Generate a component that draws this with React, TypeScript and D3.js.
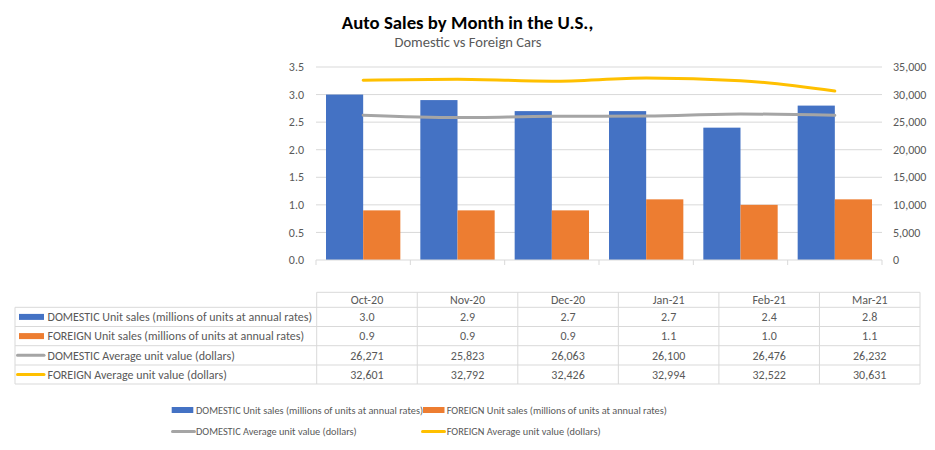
import React from "react";
import * as d3 from "d3";

const categories = ["Oct-20", "Nov-20", "Dec-20", "Jan-21", "Feb-21", "Mar-21"];
const domesticUnits = [3.0, 2.9, 2.7, 2.7, 2.4, 2.8];
const foreignUnits = [0.9, 0.9, 0.9, 1.1, 1.0, 1.1];
const domesticValue = [26271, 25823, 26063, 26100, 26476, 26232];
const foreignValue = [32601, 32792, 32426, 32994, 32522, 30631];
const leftTicks = [0, 0.5, 1, 1.5, 2, 2.5, 3, 3.5];
const rightTicks = [0, 5000, 10000, 15000, 20000, 25000, 30000, 35000];
const seriesNames = [
  "DOMESTIC Unit sales (millions of units at annual rates)",
  "FOREIGN Unit sales (millions of units at annual rates)",
  "DOMESTIC Average unit value (dollars)",
  "FOREIGN Average unit value (dollars)",
];
const colors = ["#4472C4", "#ED7D31", "#A5A5A5", "#FFC000"];

const FONT = "Carlito, Lato, sans-serif";
const TXT = "#595959";

export default function App() {
  const plotL = 316, plotR = 882, plotT = 67, plotB = 260;
  const x = d3.scaleBand<string>().domain(categories).range([plotL, plotR]).paddingInner(0).paddingOuter(0);
  const bw = x.bandwidth();
  const gap = bw * 0.106;
  const barW = (bw - 2 * gap) / 2;
  const yL = d3.scaleLinear().domain([0, 3.5]).range([plotB, plotT]);
  const yR = d3.scaleLinear().domain([0, 35000]).range([plotB, plotT]);
  const cx = (c: string) => (x(c) as number) + bw / 2;

  const domPts = categories.map((c, i) => [cx(c), yR(domesticValue[i])] as [number, number]);
  const forPts = categories.map((c, i) => [cx(c), yR(foreignValue[i])] as [number, number]);
  const lineGen = d3.line<[number, number]>().x(d => d[0]).y(d => d[1]).curve(d3.curveMonotoneX);

  // table
  const tL = 15, tC0 = 316.7, tR = 920;
  const colW = (tR - tC0) / categories.length;
  const rowY = [292.3, 307.3, 326.5, 345.7, 365, 384];
  const fmt1 = d3.format(".1f");
  const fmtC = d3.format(",");
  const rows = [
    domesticUnits.map(fmt1),
    foreignUnits.map(fmt1),
    domesticValue.map(fmtC),
    foreignValue.map(fmtC),
  ];
  const gridC = "#D9D9D9";

  const keyMark = (i: number, x0: number, x1: number, yc: number) =>
    i < 2 ? (
      <rect x={x0} y={yc - 3} width={x1 - x0} height={6} fill={colors[i]} />
    ) : (
      <line x1={x0} x2={x1} y1={yc} y2={yc} stroke={colors[i]} strokeWidth={3} strokeLinecap="round" />
    );

  return (
    <svg width={935} height={450} style={{ position: "absolute", left: 0, top: 0, background: "#fff" }} fontFamily={FONT}>
      <rect width={935} height={450} fill="#fff" />
      <text x={467.5} y={28.5} textAnchor="middle" fontSize={18.8} fontWeight="bold" fill="#000">Auto Sales by Month in the U.S.,</text>
      <text x={468} y={47} textAnchor="middle" fontSize={14.6} fill={TXT}>Domestic vs Foreign Cars</text>

      {/* gridlines */}
      {leftTicks.slice(1).map(t => (
        <line key={t} x1={plotL} x2={plotR} y1={yL(t)} y2={yL(t)} stroke={gridC} strokeWidth={1} />
      ))}
      {/* bars */}
      {categories.map((c, i) => (
        <g key={c}>
          <rect x={(x(c) as number) + gap} y={yL(domesticUnits[i])} width={barW} height={plotB - yL(domesticUnits[i])} fill={colors[0]} />
          <rect x={(x(c) as number) + gap + barW} y={yL(foreignUnits[i])} width={barW} height={plotB - yL(foreignUnits[i])} fill={colors[1]} />
        </g>
      ))}
      {/* axis */}
      <line x1={plotL} x2={plotR} y1={plotB} y2={plotB} stroke={gridC} strokeWidth={1} />
      {d3.range(categories.length + 1).map(k => {
        const xx = plotL + k * bw;
        return <line key={k} x1={xx} x2={xx} y1={plotB} y2={plotB + 5} stroke={gridC} />;
      })}
      {/* lines */}
      <path d={lineGen(domPts) || ""} fill="none" stroke={colors[2]} strokeWidth={3} strokeLinecap="round" />
      <path d={lineGen(forPts) || ""} fill="none" stroke={colors[3]} strokeWidth={3} strokeLinecap="round" />

      {/* axis labels */}
      {leftTicks.map(t => (
        <text key={t} x={304} y={yL(t)} dy="0.35em" textAnchor="end" fontSize={12} fill={TXT}>{fmt1(t)}</text>
      ))}
      {rightTicks.map(t => (
        <text key={t} x={893} y={yR(t)} dy="0.35em" textAnchor="start" fontSize={12} fill={TXT}>{fmtC(t)}</text>
      ))}

      {/* data table */}
      <g stroke={gridC} strokeWidth={1}>
        <line x1={tC0} x2={tR} y1={rowY[0]} y2={rowY[0]} />
        {rowY.slice(1).map((yy, i) => (
          <line key={i} x1={tL} x2={tR} y1={yy} y2={yy} />
        ))}
        <line x1={tL} x2={tL} y1={rowY[1]} y2={rowY[5]} />
        {d3.range(categories.length + 1).map(k => (
          <line key={k} x1={tC0 + k * colW} x2={tC0 + k * colW} y1={rowY[0]} y2={rowY[5]} />
        ))}
      </g>
      {categories.map((c, k) => (
        <text key={c} x={tC0 + (k + 0.5) * colW} y={(rowY[0] + rowY[1]) / 2} dy="0.35em" textAnchor="middle" fontSize={12} fill={TXT}>{c}</text>
      ))}
      {rows.map((r, i) => {
        const yc = (rowY[i + 1] + rowY[i + 2]) / 2;
        return (
          <g key={i}>
            {keyMark(i, i < 2 ? 19 : 17.5, 44, yc)}
            <text x={47.5} y={yc} dy="0.35em" fontSize={12} fill={TXT}>{seriesNames[i]}</text>
            {r.map((v, k) => (
              <text key={k} x={tC0 + (k + 0.5) * colW} y={yc} dy="0.35em" textAnchor="middle" fontSize={12} fill={TXT}>{v}</text>
            ))}
          </g>
        );
      })}

      {/* legend */}
      {[
        { i: 0, x0: 171.7, x1: 193.3, tx: 196, y: 410 },
        { i: 1, x0: 423, x1: 444.5, tx: 446.7, y: 410 },
        { i: 2, x0: 172.5, x1: 194.5, tx: 196, y: 431.5 },
        { i: 3, x0: 422.5, x1: 444.5, tx: 446.7, y: 431.5 },
      ].map(l => (
        <g key={l.i}>
          {keyMark(l.i, l.x0, l.x1, l.y)}
          <text x={l.tx} y={l.y} dy="0.35em" fontSize={10.3} fill={TXT}>{seriesNames[l.i]}</text>
        </g>
      ))}
    </svg>
  );
}
